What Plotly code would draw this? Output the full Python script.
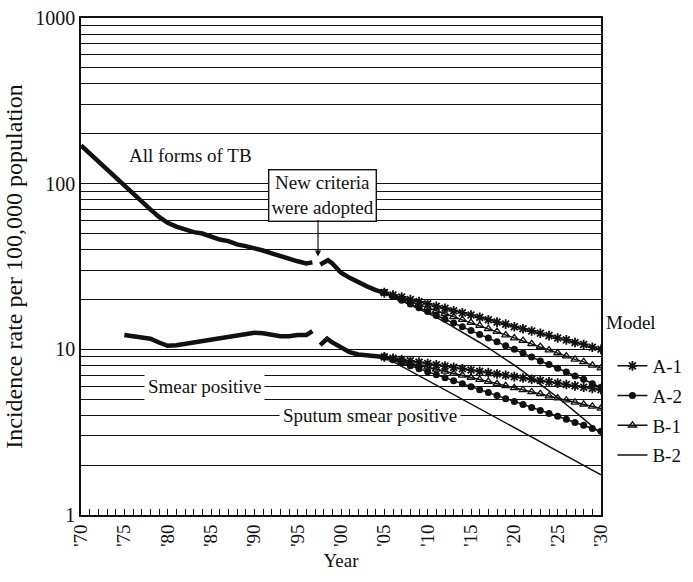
import plotly.graph_objects as go

# ---- observed data ----
all_old_years = [1970, 1971, 1972, 1973, 1974, 1975, 1976, 1977, 1978, 1979, 1980, 1981, 1982, 1983,
                 1984, 1985, 1986, 1987, 1988, 1989, 1990, 1991, 1992, 1993, 1994, 1995, 1996, 1996.7]
all_old_vals = [170, 152, 135, 120, 108, 97, 87, 78, 70, 63, 58, 55, 53, 51,
                50, 48, 46, 45, 43, 42, 41, 39.5, 38, 36.5, 35, 34, 33, 33.5]
all_new_years = [1997.6, 1998.5, 1999, 2000, 2001, 2002, 2003, 2004, 2005]
all_new_vals = [32.5, 34.5, 33, 29, 27, 25.3, 24, 22.8, 22]

sm_old_years = [1975, 1976, 1977, 1978, 1979, 1980, 1981, 1982, 1983, 1984, 1985, 1986,
                1987, 1988, 1989, 1990, 1991, 1992, 1993, 1994, 1995, 1996, 1996.7]
sm_old_vals = [12.2, 12.0, 11.8, 11.6, 11.0, 10.5, 10.6, 10.8, 11.0, 11.3, 11.4, 11.7,
               11.9, 12.1, 12.4, 12.6, 12.5, 12.3, 12.0, 12.0, 12.2, 12.2, 12.9]
sm_new_years = [1997.6, 1998.4, 1999, 2000, 2001, 2002, 2003, 2004, 2005]
sm_new_vals = [10.6, 11.6, 11.0, 10.2, 9.6, 9.3, 9.2, 9.1, 9.0]

# ---- model projections ----
model_years = list(range(2005, 2031))
all_A1 = [22.0, 21.3, 20.7, 20.0, 19.4, 18.8, 18.2, 17.7, 17.1, 16.6, 16.1, 15.6, 15.1, 14.6,
          14.2, 13.7, 13.3, 12.9, 12.5, 12.1, 11.7, 11.4, 11.0, 10.7, 10.3, 10.0]
all_B1 = [22.0, 21.1, 20.2, 19.4, 18.6, 17.8, 17.1, 16.4, 15.7, 15.1, 14.5, 13.9, 13.3, 12.8,
          12.2, 11.7, 11.3, 10.8, 10.4, 9.9, 9.5, 9.1, 8.7, 8.4, 8.0, 7.7]
all_A2 = [22.0, 20.9, 19.8, 18.8, 17.8, 16.9, 16.0, 15.2, 14.4, 13.7, 13.0, 12.3, 11.7, 11.1,
          10.5, 10.0, 9.5, 9.0, 8.5, 8.1, 7.7, 7.3, 6.9, 6.6, 6.2, 5.9]
all_B2 = [22.0, 20.8, 19.7, 18.6, 17.6, 16.6, 15.6, 14.6, 13.6, 12.7, 11.9, 11.0, 10.2, 9.44,
          8.71, 8.02, 7.36, 6.75, 6.17, 5.62, 5.12, 4.65, 4.21, 3.80, 3.43, 3.08]
sm_A1 = [9.0, 8.84, 8.68, 8.52, 8.37, 8.21, 8.07, 7.92, 7.78, 7.64, 7.50, 7.36, 7.23, 7.10,
         6.97, 6.84, 6.72, 6.60, 6.48, 6.36, 6.25, 6.13, 6.02, 5.91, 5.81, 5.70]
sm_B1 = [9.0, 8.75, 8.50, 8.26, 8.03, 7.80, 7.58, 7.37, 7.16, 6.96, 6.76, 6.57, 6.38, 6.20,
         6.03, 5.86, 5.69, 5.53, 5.38, 5.22, 5.08, 4.93, 4.79, 4.66, 4.53, 4.40]
sm_A2 = [9.0, 8.64, 8.28, 7.95, 7.63, 7.32, 7.02, 6.74, 6.46, 6.20, 5.95, 5.71, 5.48, 5.26,
         5.04, 4.84, 4.64, 4.45, 4.27, 4.10, 3.94, 3.78, 3.62, 3.48, 3.33, 3.20]
sm_B2 = [9.0, 8.43, 7.90, 7.40, 6.93, 6.49, 6.08, 5.69, 5.33, 4.99, 4.68, 4.38, 4.10, 3.84,
         3.60, 3.37, 3.16, 2.96, 2.77, 2.59, 2.43, 2.28, 2.13, 2.00, 1.87, 1.75]

x_tick_vals = [1970, 1975, 1980, 1985, 1990, 1995, 2000, 2005, 2010, 2015, 2020, 2025, 2030]
x_tick_text = ["'70", "'75", "'80", "'85", "'90", "'95", "'00", "'05", "'10", "'15", "'20", "'25", "'30"]
y_tick_vals = [m * d for d in (1, 10, 100) for m in range(1, 10)] + [1000]
y_tick_text = [str(v) if v in (1, 10, 100, 1000) else "" for v in y_tick_vals]

FONT = "Liberation Serif"
BLACK = "#111111"

fig = go.Figure()

for xs, ys in [(all_old_years, all_old_vals), (all_new_years, all_new_vals),
               (sm_old_years, sm_old_vals), (sm_new_years, sm_new_vals)]:
    fig.add_trace(go.Scatter(x=xs, y=ys, mode="lines", showlegend=False,
                             line=dict(color=BLACK, width=4.5), hoverinfo="skip"))

models = [
    ("A-1", all_A1, sm_A1, dict(symbol="asterisk-open", size=8, color=BLACK, line=dict(width=1.8, color=BLACK))),
    ("A-2", all_A2, sm_A2, dict(symbol="circle", size=7, color=BLACK, line=dict(width=0))),
    ("B-1", all_B1, sm_B1, dict(symbol="triangle-up-open", size=7, color=BLACK, line=dict(width=1.3, color=BLACK))),
    ("B-2", all_B2, sm_B2, None),
]
for name, a_vals, s_vals, mk in models:
    for i, vals in enumerate((a_vals, s_vals)):
        kw = dict(x=model_years, y=vals, name=name, legendgroup=name,
                  showlegend=(i == 0), line=dict(color=BLACK, width=1.5))
        if mk is None:
            kw["mode"] = "lines"
        else:
            kw["mode"] = "lines+markers"
            kw["marker"] = mk
        fig.add_trace(go.Scatter(**kw))

fig.update_layout(
    width=693, height=582,
    margin=dict(l=81, r=92, t=18, b=67, autoexpand=False),
    paper_bgcolor="white", plot_bgcolor="white",
    font=dict(family=FONT, size=19, color=BLACK),
    legend=dict(x=1.022, y=0.338, xanchor="left", yanchor="top",
                font=dict(size=19), itemwidth=30, tracegroupgap=2,
                bgcolor="rgba(0,0,0,0)"),
    xaxis=dict(range=[1970, 2030], tickvals=x_tick_vals, ticktext=x_tick_text,
               tickangle=-90, ticks="inside", ticklen=6, tickwidth=1.2, tickcolor=BLACK,
               minor=dict(dtick=1, ticks="inside", ticklen=6, tickwidth=1.2, tickcolor=BLACK, showgrid=False),
               showgrid=False, zeroline=False,
               showline=True, linecolor=BLACK, linewidth=1.6, mirror=True,
               tickfont=dict(size=19),
               title=dict(text="Year", font=dict(size=19), standoff=8)),
    yaxis=dict(type="log", range=[0, 3], tickvals=y_tick_vals, ticktext=y_tick_text,
               ticks="", showgrid=True, gridcolor=BLACK, gridwidth=1.2,
               zeroline=False, showline=True, linecolor=BLACK, linewidth=1.6, mirror=True,
               tickfont=dict(size=20),
               title=dict(text="Incidence rate per 100,000 population", font=dict(size=24), standoff=6)),
)

fig.add_annotation(x=1.0577, y=0.388, xref="paper", yref="paper", text="Model",
                   xanchor="center", yanchor="middle",
                   showarrow=False, font=dict(size=19))
fig.add_annotation(x=1982.6, y=2.173, xref="x", yref="y", text="All forms of TB",
                   showarrow=False, font=dict(size=19), bgcolor="white")
fig.add_annotation(x=1997.9, y=1.926, xref="x", yref="y", text="New criteria<br>were adopted",
                   showarrow=False, font=dict(size=19), bgcolor="white",
                   bordercolor=BLACK, borderwidth=1.4, borderpad=2)
fig.add_annotation(x=1997.35, y=1.56, xref="x", yref="y", text="", showarrow=True,
                   ax=0, ay=-38, arrowhead=2, arrowsize=1, arrowwidth=1.2, arrowcolor=BLACK)
fig.add_annotation(x=1984.3, y=0.778, xref="x", yref="y", text="Smear positive",
                   showarrow=False, font=dict(size=19), bgcolor="white", borderpad=3)
fig.add_annotation(x=2003.3, y=0.602, xref="x", yref="y", text="Sputum smear positive",
                   showarrow=False, font=dict(size=19), bgcolor="white", borderpad=3)

fig.write_html("out.html")
